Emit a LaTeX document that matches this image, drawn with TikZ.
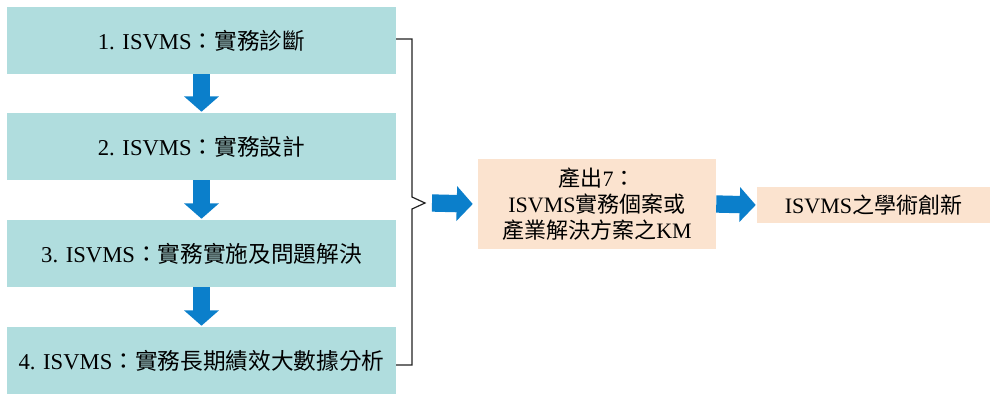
\documentclass[tikz,border=0pt]{standalone}
\usepackage{fontspec}
\setmainfont{Liberation Serif}
\newfontfamily\cjk{Noto Sans CJK TC}
\usetikzlibrary{arrows.meta}
\definecolor{tealbox}{HTML}{B0DDDE}
\definecolor{peach}{HTML}{FBE3CF}
\definecolor{arrowblue}{HTML}{0B7FCB}
\definecolor{bracegray}{HTML}{222222}
\tikzset{
  stepbox/.style={fill=tealbox, draw=none, minimum width=291.75pt, minimum height=50.25pt, inner sep=0pt, font=\fontsize{17}{20}\selectfont, text=black},
  outbox/.style={fill=peach, draw=none, inner sep=0pt, align=center, text=black, font=\fontsize{16.5}{19.5}\selectfont},
  downarrow/.style={draw=arrowblue, line width=12.75pt, -{Triangle[width=25.5pt,length=11.5pt]}, shorten >=0.75pt},
  rightarrow/.style={draw=arrowblue, line width=13pt, -{Triangle[width=25.5pt,length=12pt]}},
  bracket/.style={draw=bracegray, line width=0.9pt, line join=miter}
}
\begin{document}
\begin{tikzpicture}[x=0.75pt,y=-0.75pt]
\useasboundingbox (0,0) rectangle (990,394);
\node[stepbox] (b1) at (201.5,40.5) {1. ISVMS{\cjk ：實務診斷}};
\node[stepbox] (b2) at (201.5,146.5) {2. ISVMS{\cjk ：實務設計}};
\node[stepbox] (b3) at (201.5,253.5) {3. ISVMS{\cjk ：實務實施及問題解決}};
\node[stepbox] (b4) at (201.5,360.5) {4. ISVMS{\cjk ：實務長期績效大數據分析}};
\node[outbox, minimum width=178.5pt, minimum height=67.5pt] (out) at (597,204) {{\cjk 產出}7{\cjk ：}\\ISVMS{\cjk 實務個案或}\\{\cjk 產業解決方案之}KM};
\node[outbox, minimum width=174.75pt, minimum height=27pt] (inn) at (873.5,205) {ISVMS{\cjk 之學術創新}};
\draw[downarrow] (b1.south) -- (b2.north);
\draw[downarrow] (b2.south) -- (b3.north);
\draw[downarrow] (b3.south) -- (b4.north);
\coordinate (tip) at (425,203);
\coordinate (btop) at (396,39);
\coordinate (bbot) at (396,365);
\draw[bracket] (btop) -- (412,39) -- (412,197) -- (tip) -- (412,209) -- (412,365) -- (bbot);
\draw[rightarrow] ([xshift=5.25pt]tip) -- ([xshift=-3.75pt]out.west);
\draw[rightarrow] (out.east) -- ([xshift=-0.75pt]inn.west);
\end{tikzpicture}
\end{document}
